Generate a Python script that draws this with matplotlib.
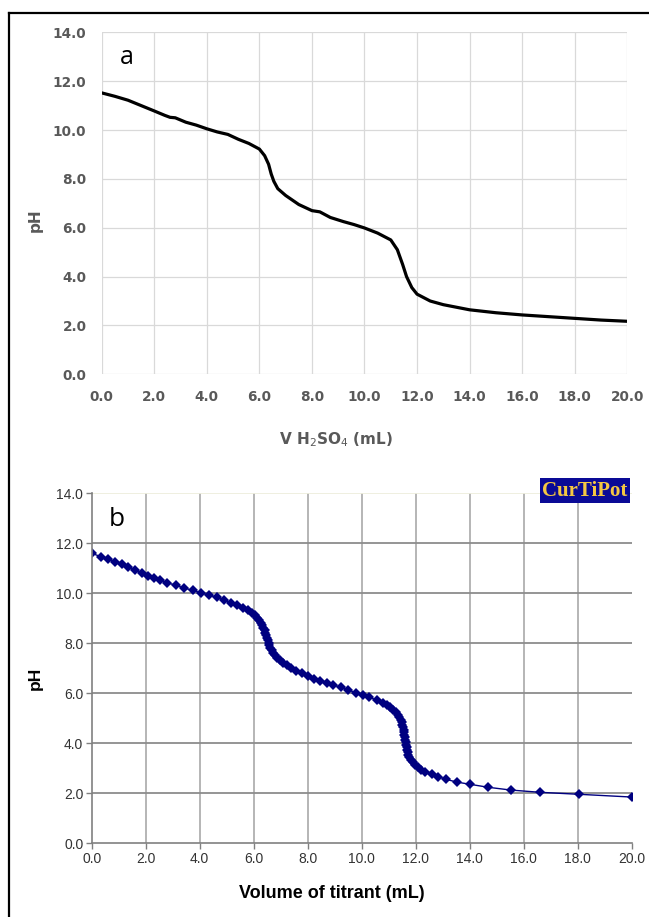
import matplotlib
matplotlib.use("Agg")
import matplotlib.pyplot as plt
from matplotlib.lines import Line2D
from matplotlib.ticker import FormatStrFormatter

# panel a: measured curve, V H2SO4 (mL) vs pH
vol_a = [0.0, 0.5, 1.0, 1.5, 2.0, 2.4, 2.6, 2.8, 3.2, 3.6, 4.0, 4.4, 4.8, 5.2,
         5.6, 6.0, 6.2, 6.35, 6.45, 6.55, 6.7, 7.0, 7.5, 8.0, 8.3, 8.7, 9.2,
         9.6, 10.0, 10.5, 11.0, 11.25, 11.45, 11.6, 11.8, 12.0, 12.5, 13.0,
         14.0, 15.0, 16.0, 17.0, 18.0, 19.0, 20.0]
ph_a = [11.52, 11.38, 11.22, 11.0, 10.78, 10.6, 10.52, 10.5, 10.32, 10.2, 10.05,
        9.92, 9.82, 9.62, 9.45, 9.22, 8.95, 8.6, 8.2, 7.9, 7.6, 7.32, 6.95, 6.7,
        6.65, 6.42, 6.25, 6.13, 5.99, 5.78, 5.5, 5.1, 4.5, 4.0, 3.55, 3.28, 3.0,
        2.85, 2.64, 2.52, 2.43, 2.36, 2.29, 2.22, 2.17]

# panel b: CurTiPot simulation, volume of titrant (mL) vs pH
vol_b = [0.00, 0.33, 0.62, 0.86, 1.11, 1.36, 1.60, 1.85, 2.10, 2.30, 2.53, 2.80,
         3.12, 3.42, 3.74, 4.04, 4.36, 4.63, 4.90, 5.15, 5.37, 5.59, 5.78, 5.93,
         6.05, 6.14, 6.21, 6.27, 6.32, 6.36, 6.40, 6.43, 6.46, 6.49, 6.52, 6.55,
         6.58, 6.62, 6.66, 6.71, 6.78, 6.86, 6.96, 7.08, 7.22, 7.38, 7.56, 7.78,
         8.02, 8.25, 8.45, 8.70, 8.95, 9.22, 9.50, 9.79, 10.06, 10.28, 10.56,
         10.78, 10.92, 11.05, 11.17, 11.26, 11.33, 11.39, 11.44, 11.48, 11.51,
         11.53, 11.55, 11.57, 11.58, 11.60, 11.61, 11.63, 11.64, 11.66, 11.68,
         11.70, 11.73, 11.77, 11.82, 11.89, 11.97, 12.08, 12.20, 12.34, 12.59,
         12.84, 13.12, 13.52, 14.01, 14.69, 15.52, 16.60, 18.05, 20.00]
ph_b = [11.60, 11.47, 11.36, 11.27, 11.16, 11.04, 10.92, 10.81, 10.70, 10.61,
        10.52, 10.42, 10.32, 10.21, 10.12, 10.02, 9.92, 9.84, 9.73, 9.63, 9.53,
        9.43, 9.33, 9.22, 9.12, 9.02, 8.92, 8.82, 8.72, 8.62, 8.52, 8.42, 8.32,
        8.22, 8.12, 8.02, 7.92, 7.82, 7.72, 7.62, 7.52, 7.42, 7.32, 7.22, 7.12,
        7.00, 6.90, 6.80, 6.68, 6.59, 6.51, 6.43, 6.33, 6.24, 6.13, 6.02, 5.93,
        5.84, 5.73, 5.62, 5.54, 5.45, 5.35, 5.25, 5.15, 5.05, 4.95, 4.85, 4.75,
        4.65, 4.55, 4.45, 4.35, 4.25, 4.15, 4.05, 3.95, 3.85, 3.75, 3.65, 3.55,
        3.45, 3.35, 3.25, 3.15, 3.05, 2.95, 2.85, 2.76, 2.67, 2.56, 2.45, 2.36,
        2.24, 2.13, 2.04, 1.96, 1.85]

x_ticks = [0, 2, 4, 6, 8, 10, 12, 14, 16, 18, 20]
y_ticks = [0, 2, 4, 6, 8, 10, 12, 14]

fig = plt.figure(figsize=(6.49, 9.17), dpi=100)

# frame lines (top and left edge of the picture)
fig.add_artist(Line2D([9/649, 9/649], [0, 1 - 13/917], color='black', lw=1.6,
                      transform=fig.transFigure))
fig.add_artist(Line2D([9/649, 1], [1 - 13/917, 1 - 13/917], color='black', lw=1.6,
                      transform=fig.transFigure))

# ---- panel a (Excel style) ----
ax1 = fig.add_axes([101.7/649, 1 - 374.3/917, 525.6/649, 342/917])
ax1.plot(vol_a, ph_a, color='black', lw=2.3, solid_capstyle='round')
ax1.set_xlim(0, 20)
ax1.set_ylim(0, 14)
ax1.set_xticks(x_ticks)
ax1.set_yticks(y_ticks)
ax1.xaxis.set_major_formatter(FormatStrFormatter('%.1f'))
ax1.yaxis.set_major_formatter(FormatStrFormatter('%.1f'))
ax1.grid(True, color='#d9d9d9', lw=0.9)
ax1.set_axisbelow(True)
for s in ax1.spines.values():
    s.set_visible(False)
ax1.tick_params(length=0, pad=11, labelsize=9.8, labelcolor='#595959')
for lab in ax1.get_xticklabels() + ax1.get_yticklabels():
    lab.set_fontweight('bold')
ax1.set_ylabel('pH', fontsize=11, fontweight='bold', color='#595959')
ax1.yaxis.set_label_coords(-0.113, 0.45)
ax1.text(0.048, 0.925, 'a', transform=ax1.transAxes, fontsize=18,
         family='Open Sans', ha='center', va='center')
fig.text(336/649, 1 - 440/917, 'V H$_2$SO$_4$ (mL)', ha='center', va='center',
         fontsize=11, fontweight='bold', color='#595959')

# ---- panel b (CurTiPot style) ----
ax2 = fig.add_axes([91.7/649, 1 - 843.3/917, 540/649, 350/917])
ax2.plot(vol_b, ph_b, color='#000080', lw=1.0, marker='D', markersize=5.2,
         markeredgewidth=0)
ax2.set_xlim(0, 20)
ax2.set_ylim(0, 14)
ax2.set_xticks(x_ticks)
ax2.set_yticks(y_ticks)
ax2.xaxis.set_major_formatter(FormatStrFormatter('%.1f'))
ax2.yaxis.set_major_formatter(FormatStrFormatter('%.1f'))
ax2.grid(True, axis='y', color='#8c8c8c', lw=1.3)
ax2.grid(True, axis='x', color='#b0b0b0', lw=1.3)
ax2.set_axisbelow(True)
ax2.get_ygridlines()[-1].set_color('#eeeedd')
ax2.get_xgridlines()[-1].set_visible(False)
ax2.get_xgridlines()[0].set_visible(False)
ax2.get_ygridlines()[0].set_visible(False)
ax2.spines['top'].set_visible(False)
ax2.spines['right'].set_visible(False)
ax2.spines['left'].set_color('#808080')
ax2.spines['bottom'].set_color('#808080')
ax2.spines['left'].set_linewidth(1.2)
ax2.spines['bottom'].set_linewidth(1.2)
ax2.tick_params(length=4, width=1, color='#808080', pad=2, labelsize=10,
                labelcolor='#333333')
for lab in ax2.get_xticklabels() + ax2.get_yticklabels():
    lab.set_family('Liberation Sans')
ax2.set_ylabel('pH', fontsize=12.5, fontweight='bold', family='Liberation Sans')
ax2.yaxis.set_label_coords(-0.09, 0.47)
ax2.text(0.047, 0.924, 'b', transform=ax2.transAxes, fontsize=19,
         family='Open Sans', ha='center', va='center')
fig.text(332/649, 1 - 893/917, 'Volume of titrant (mL)', ha='center', va='center',
         fontsize=13, fontweight='bold', family='Liberation Sans')
fig.text(585/649, 1 - 490.5/917, 'CurTiPot', ha='center', va='center',
         fontsize=15, fontweight='bold', family='Liberation Serif', color='#f5c842',
         bbox=dict(boxstyle='square,pad=0.1', fc='#0a0a96', ec='none'))

fig.savefig('out.png', dpi=100)
